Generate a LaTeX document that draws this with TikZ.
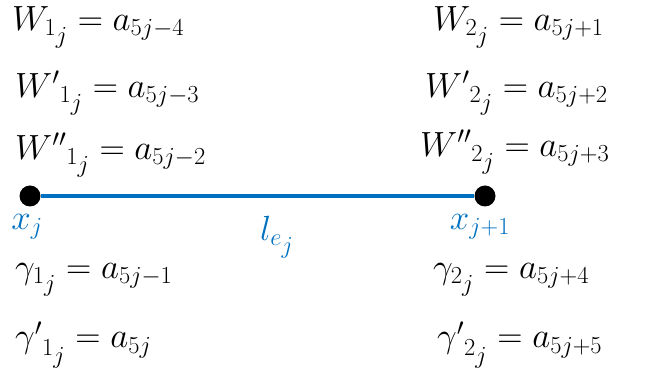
\RequirePackage{fix-cm}
\documentclass[tikz,border=0pt]{standalone}
\usepackage{amsmath}
\definecolor{edgeblue}{RGB}{0,112,192}
\newcommand{\sj}{{\scriptstyle j}}
\begin{document}
\begin{tikzpicture}[x=1pt,y=-1pt,
  eq/.style={anchor=west,inner sep=0pt,font=\fontsize{35}{42}\selectfont},
  lbl/.style={inner sep=0pt,text=edgeblue,font=\fontsize{35}{42}\selectfont},
  vertex/.style={circle,fill=black,minimum size=21pt,inner sep=0pt}]
\useasboundingbox (0,0) rectangle (649,371);
% left column
\node[eq] (w1)   at (12,27)  {$W_{1_\sj} = a_{5j-4}$};
\node[eq] (w1p)  at (15,93)  {${W'}_{1_\sj} = a_{5j-3}$};
\node[eq] (w1pp) at (15,155) {${W''}_{1_\sj} = a_{5j-2}$};
\node[eq] (g1)   at (15,280) {$\gamma_{1_\sj} = a_{5j-1}$};
\node[eq] (g1p)  at (15,345) {${\gamma'}_{1_\sj} = a_{5j}$};
% right column
\node[eq] (w2)   at (433,27)  {$W_{2_\sj} = a_{5j+1}$};
\node[eq] (w2p)  at (425,93)  {${W'}_{2_\sj} = a_{5j+2}$};
\node[eq] (w2pp) at (420,152) {${W''}_{2_\sj} = a_{5j+3}$};
\node[eq] (g2)   at (433,280) {$\gamma_{2_\sj} = a_{5j+4}$};
\node[eq] (g2p)  at (437,345) {${\gamma'}_{2_\sj} = a_{5j+5}$};
% edge
\node[vertex] (xa) at (30,196) {};
\node[vertex] (xb) at (485,196) {};
\draw[edgeblue,line width=3.5pt] (xa) -- (xb);
\node[lbl] (lxa) at (27,227) {$x_j$};
\node[lbl] (lxb) at (480,227) {$x_{j+1}$};
\node[lbl] (le)  at (277,237) {$l_{e_\sj}$};
\end{tikzpicture}
\end{document}
